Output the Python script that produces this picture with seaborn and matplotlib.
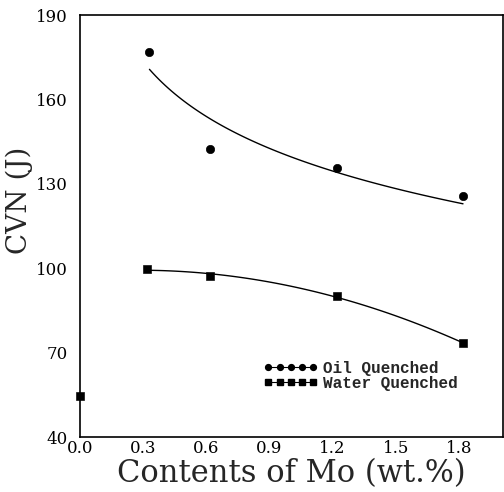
import matplotlib
matplotlib.use("Agg")
import matplotlib.pyplot as plt
from matplotlib.lines import Line2D
import seaborn as sns
import pandas as pd

mo_oil = [0.33, 0.62, 1.22, 1.82]
cvn_oil = [177.0, 142.5, 135.5, 125.7]
mo_water = [0.0, 0.32, 0.62, 1.22, 1.82]
cvn_water = [54.5, 99.7, 97.2, 90.2, 73.3]
xticks = [0.0, 0.3, 0.6, 0.9, 1.2, 1.5, 1.8]
yticks = [40, 70, 100, 130, 160, 190]

sns.set_style("white")
plt.rcParams['font.family'] = ['DejaVu Serif']

oil = pd.DataFrame({"mo": mo_oil, "cvn": cvn_oil})
water = pd.DataFrame({"mo": mo_water, "cvn": cvn_water})
water_fit = water[water["mo"] > 0]

fig = plt.figure(figsize=(5.04, 4.92), dpi=100)
ax = fig.add_axes([80/504, 1-437/492, 423/504, 422/492])

# fitted curves
sns.regplot(data=oil, x="mo", y="cvn", logx=True, ci=None, scatter=False, truncate=True,
            line_kws=dict(color="black", lw=1.0), ax=ax)
sns.regplot(data=water_fit, x="mo", y="cvn", order=2, ci=None, scatter=False, truncate=True,
            line_kws=dict(color="black", lw=1.0), ax=ax)
# points
sns.scatterplot(data=oil, x="mo", y="cvn", marker="o", s=36, color="black", edgecolor="black", ax=ax, clip_on=False, zorder=5)
sns.scatterplot(data=water, x="mo", y="cvn", marker="s", s=30, color="black", edgecolor="black", ax=ax, clip_on=False, zorder=5)

ax.set_xlim(0.0, 2.01)
ax.set_ylim(40, 190)
ax.set_xticks(xticks)
ax.set_xticklabels([f"{v:.1f}" for v in xticks])
ax.set_yticks(yticks)
ax.set_yticklabels([str(v) for v in yticks])
ax.tick_params(axis="x", direction="in", length=6, width=0.9, labelsize=12, pad=2, colors="black")
ax.tick_params(axis="y", direction="out", length=6, width=0.9, labelsize=12, pad=3, colors="black")
for s in ax.spines.values():
    s.set_visible(True)
    s.set_color("black")
    s.set_linewidth(1.2)

ax.set_xlabel("Contents of Mo (wt.%)", fontsize=22)
ax.set_ylabel("CVN (J)", fontsize=20)
ax.xaxis.set_label_coords(0.5, -0.05)
ax.yaxis.set_label_coords(-0.11, 0.56)

handles = [Line2D([0], [0], color="black", lw=0.8, marker="o", markersize=4.2),
           Line2D([0], [0], color="black", lw=0.8, marker="s", markersize=4.2)]
leg = ax.legend(handles, ["Oil Quenched", "Water Quenched"], numpoints=5, frameon=False,
                loc="lower left", bbox_to_anchor=(0.4, 0.075), handlelength=3.4,
                handletextpad=0.35, labelspacing=0.0,
                prop=dict(family="Liberation Mono", weight="bold", size=11.5))

fig.savefig("out.png", dpi=100)
